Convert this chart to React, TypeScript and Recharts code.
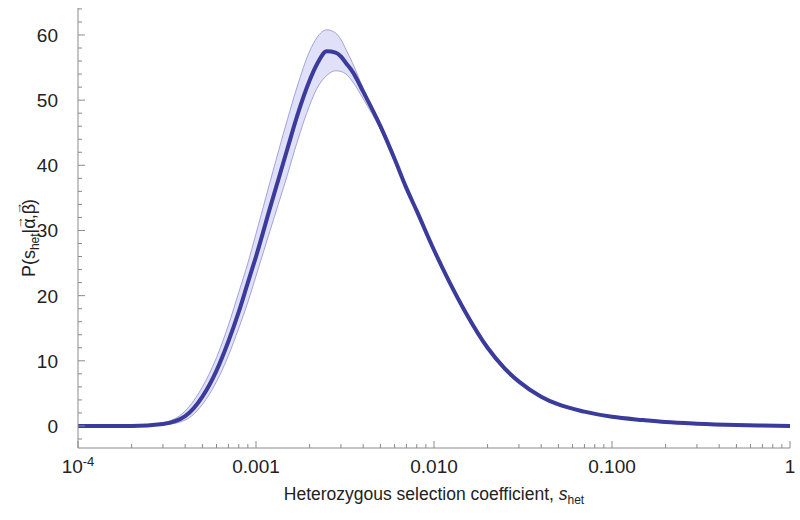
import React from "react";
import {
  ComposedChart,
  Area,
  Line,
  XAxis,
  YAxis,
} from "recharts";

// selection coefficient grid (log-spaced)
const sValues = [
  1e-4, 2e-4, 3e-4, 4e-4, 5e-4, 6e-4, 7e-4, 8e-4, 9e-4, 1e-3, 1.2e-3, 1.5e-3,
  1.7e-3, 2e-3, 2.2e-3, 2.5e-3, 2.8e-3, 3e-3, 3.2e-3, 3.5e-3, 4e-3, 5e-3,
  6e-3, 7e-3, 8e-3, 1e-2, 1.2e-2, 1.5e-2, 2e-2, 2.5e-2, 3e-2, 4e-2, 5e-2,
  7e-2, 0.1, 0.15, 0.2, 0.3, 0.5, 0.7, 1,
];

// posterior density, central estimate
const pMean = [
  0, 0, 0.3, 1.5, 4.5, 8.5, 13, 17.5, 22, 26, 33.5, 42.5, 47.5, 53, 55.5,
  57.5, 57.3, 56.7, 55.7, 54.3, 51.3, 46, 41, 36.5, 33, 27, 22.5, 17.5, 12,
  8.8, 6.8, 4.5, 3.3, 2.2, 1.4, 0.9, 0.6, 0.35, 0.15, 0.07, 0,
];

// lower / upper edge of the shaded band
const pLow = [
  0, 0, 0.15, 0.9, 3.3, 6.8, 10.8, 15, 19, 23, 30, 38.5, 43.5, 49.2, 51.8,
  53.8, 54.5, 54.4, 54, 52.8, 50.2, 45.5, 40.7, 36.5, 33, 27, 22.5, 17.5, 12,
  8.8, 6.8, 4.5, 3.3, 2.2, 1.4, 0.9, 0.6, 0.35, 0.15, 0.07, 0,
];
const pHigh = [
  0, 0, 0.5, 2.3, 6, 10.5, 15.5, 20.5, 25, 29.5, 37.5, 47, 52, 57.5, 59.6,
  60.8, 60.3, 59.3, 57.8, 55.6, 51.8, 46.3, 41.1, 36.5, 33, 27, 22.5, 17.5,
  12, 8.8, 6.8, 4.5, 3.3, 2.2, 1.4, 0.9, 0.6, 0.35, 0.15, 0.07, 0,
];

const xMajorTicks = [1e-4, 1e-3, 1e-2, 1e-1, 1];
const xMajorLabels = ["10^-4", "0.001", "0.010", "0.100", "1"];
const yMajorTicks = [0, 10, 20, 30, 40, 50, 60];

const xMinorTicks = [1e-4, 1e-3, 1e-2, 1e-1].flatMap((d) =>
  [2, 3, 4, 5, 6, 7, 8, 9].map((k) => +(k * d).toPrecision(3))
);
const yAllTicks = Array.from({ length: 34 }, (_, i) => -2 + i * 2);

const data = sValues.map((s, i) => ({
  s,
  mean: pMean[i],
  band: [pLow[i], pHigh[i]],
}));

const axisColor = "#8a8a8a";
const textColor = "#222";
const lineColor = "#3b3b9b";
const font = "'Liberation Sans', Arial, sans-serif";

const XTick = (props: any) => {
  const { x, y, payload } = props;
  const idx = xMajorTicks.indexOf(payload.value);
  const major = idx >= 0;
  const label = major ? xMajorLabels[idx] : "";
  return (
    <g>
      <line x1={x} x2={x} y1={y} y2={y - (major ? 7 : 4)} stroke={axisColor} />
      {major &&
        (label.startsWith("10^") ? (
          <text x={x} y={y + 25} textAnchor="middle" fontSize={19} fill={textColor} fontFamily={font}>
            10
            <tspan dy={-7} fontSize={13}>
              {label.slice(3)}
            </tspan>
          </text>
        ) : (
          <text x={x} y={y + 25} textAnchor="middle" fontSize={19} fill={textColor} fontFamily={font}>
            {label}
          </text>
        ))}
    </g>
  );
};

const YTick = (props: any) => {
  const { x, y, payload } = props;
  const major = yMajorTicks.includes(payload.value);
  return (
    <g>
      <line x1={x} x2={x + (major ? 7 : 4)} y1={y} y2={y} stroke={axisColor} />
      {major && (
        <text x={x - 20} y={y + 7} textAnchor="end" fontSize={19} fill={textColor} fontFamily={font}>
          {payload.value}
        </text>
      )}
    </g>
  );
};

const XTitle = (props: any) => {
  const { viewBox } = props;
  const cx = viewBox.x + viewBox.width / 2;
  return (
    <text x={cx} y={viewBox.y + 52} textAnchor="middle" fontSize={17.5} fill={textColor} fontFamily={font}>
      Heterozygous selection coefficient,{" "}
      <tspan fontStyle="italic">s</tspan>
      <tspan dy={4} fontSize={12}>
        het
      </tspan>
    </text>
  );
};

const YTitle = (props: any) => {
  const { viewBox } = props;
  const cy = viewBox.y + viewBox.height / 2 + 10;
  const cx = 35;
  return (
    <text
      x={cx}
      y={cy}
      textAnchor="middle"
      fontSize={18}
      fill={textColor}
      fontFamily={font}
      transform={`rotate(-90 ${cx} ${cy})`}
    >
      P(s
      <tspan dy={4} fontSize={12}>
        het
      </tspan>
      <tspan dy={-4}>|α</tspan>
      <tspan dx={-11} dy={-12} fontSize={13}>→</tspan>
      <tspan dx={-3} dy={12}>,β</tspan>
      <tspan dx={-11} dy={-13} fontSize={13}>→</tspan>
      <tspan dx={-3} dy={13}>)</tspan>
    </text>
  );
};

export default function App() {
  return (
    <div style={{ position: "absolute", left: 0, top: 0, background: "#fff" }}>
      <ComposedChart
        width={800}
        height={520}
        data={data}
        margin={{ top: 8, right: 10, bottom: 0, left: 0 }}
      >
        <XAxis
          dataKey="s"
          type="number"
          scale="log"
          domain={[1e-4, 1]}
          allowDataOverflow
          ticks={[...xMajorTicks, ...xMinorTicks]}
          interval={0}
          tick={<XTick />}
          tickLine={false}
          tickSize={0}
          tickMargin={0}
          height={72}
          axisLine={{ stroke: axisColor }}
          label={<XTitle />}
        />
        <YAxis
          type="number"
          domain={[-3.38, 64.14]}
          allowDataOverflow
          ticks={yAllTicks}
          interval={0}
          tick={<YTick />}
          tickLine={false}
          tickSize={0}
          tickMargin={0}
          width={78}
          axisLine={{ stroke: axisColor }}
          label={<YTitle />}
        />
        <Area
          dataKey="band"
          type="monotone"
          fill="#e0e0f8"
          fillOpacity={1}
          stroke="#8f8fd0"
          strokeWidth={0.8}
          isAnimationActive={false}
          dot={false}
          activeDot={false}
        />
        <Line
          dataKey="mean"
          type="monotone"
          stroke={lineColor}
          strokeWidth={4}
          dot={false}
          activeDot={false}
          isAnimationActive={false}
        />
      </ComposedChart>
    </div>
  );
}
